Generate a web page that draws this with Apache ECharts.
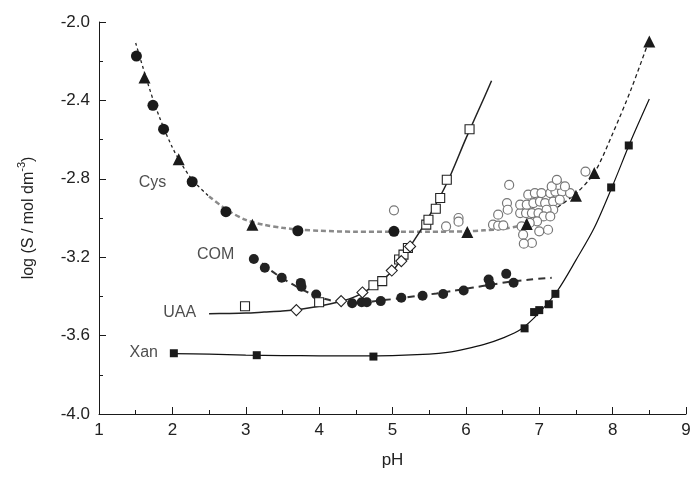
<!DOCTYPE html>
<html>
<head>
<meta charset="utf-8">
<script src="https://cdn.jsdelivr.net/npm/echarts@6/dist/echarts.min.js"></script>
<style>
  html, body { margin: 0; padding: 0; background: #fff; }
  #chart { width: 694px; height: 479px; }
</style>
</head>
<body>
<div id="chart"></div>
<script>
// values: [pH, log S]
var cysCircles = [[1.51, -2.174], [1.735, -2.425], [1.88, -2.547], [2.27, -2.815], [2.73, -2.968], [3.71, -3.065], [5.02, -3.068]];
var cysTriangles = [[1.62, -2.283], [2.086, -2.70], [3.09, -3.034], [6.02, -3.071], [6.83, -3.03], [7.50, -2.887], [7.75, -2.771], [8.50, -2.10]];
var cysFitLeft = [[1.50, -2.107], [1.75, -2.41], [2.00, -2.64], [2.25, -2.795], [2.50, -2.89]];
var cysFitMid = [[2.50, -2.89], [2.75, -2.96], [3.00, -3.01], [3.25, -3.035], [3.50, -3.05], [3.75, -3.06], [4.00, -3.065],
  [4.50, -3.07], [5.00, -3.07], [5.50, -3.07], [6.00, -3.068], [6.25, -3.063], [6.50, -3.055], [6.75, -3.038], [7.00, -3.005], [7.25, -2.945]];
var cysFitRight = [[7.25, -2.945], [7.50, -2.875], [7.75, -2.77], [8.00, -2.57], [8.25, -2.345], [8.50, -2.09]];

var comPoints = [[3.11, -3.209], [3.26, -3.254], [3.49, -3.305], [3.75, -3.331], [3.76, -3.351], [3.96, -3.39],
  [4.45, -3.435], [4.58, -3.43], [4.65, -3.43], [4.84, -3.424], [5.12, -3.407], [5.41, -3.397], [5.69, -3.388],
  [5.97, -3.37], [6.31, -3.314], [6.33, -3.34], [6.55, -3.285], [6.65, -3.33]];
var comFit = [[3.10, -3.19], [3.35, -3.27], [3.60, -3.33], [3.85, -3.38], [4.10, -3.415], [4.35, -3.43], [4.60, -3.43],
  [4.85, -3.42], [5.10, -3.41], [5.35, -3.397], [5.60, -3.385], [5.85, -3.37], [6.10, -3.355], [6.35, -3.34],
  [6.60, -3.325], [6.85, -3.315], [7.10, -3.307], [7.17, -3.305]];

var uaaSquares = [[2.99, -3.45], [4.00, -3.43], [4.74, -3.343], [4.86, -3.322], [5.09, -3.212], [5.15, -3.187], [5.21, -3.153],
  [5.46, -3.034], [5.49, -3.009], [5.59, -2.953], [5.65, -2.898], [5.74, -2.805], [6.05, -2.547]];
var uaaDiamonds = [[3.69, -3.47], [4.30, -3.424], [4.59, -3.38], [4.99, -3.268], [5.12, -3.22], [5.24, -3.145]];
var uaaFit = [[2.50, -3.488], [2.75, -3.487], [3.00, -3.485], [3.25, -3.48], [3.50, -3.475], [3.75, -3.465], [4.00, -3.45],
  [4.25, -3.43], [4.50, -3.40], [4.75, -3.345], [5.00, -3.27], [5.25, -3.14], [5.50, -2.99], [5.75, -2.815], [6.00, -2.595],
  [6.25, -2.385], [6.35, -2.30]];

var xanSquares = [[2.02, -3.69], [3.15, -3.70], [4.74, -3.707], [6.80, -3.563], [6.93, -3.48], [7.00, -3.47], [7.13, -3.44],
  [7.22, -3.387], [7.98, -2.844], [8.22, -2.63]];
var xanFit = [[2.00, -3.692], [2.50, -3.695], [3.00, -3.70], [3.50, -3.702], [4.00, -3.703], [4.50, -3.703], [5.00, -3.702],
  [5.50, -3.695], [5.75, -3.686], [6.00, -3.668], [6.25, -3.645], [6.50, -3.613], [6.75, -3.568], [7.00, -3.483], [7.25, -3.37],
  [7.50, -3.215], [7.75, -3.05], [8.00, -2.835], [8.25, -2.605], [8.50, -2.393]];

var openCircles = [[5.02, -2.961], [5.73, -3.043], [5.90, -3.000], [5.90, -3.019], [6.59, -2.831], [6.56, -2.924], [6.57, -2.958],
  [6.44, -2.983], [6.37, -3.034], [6.44, -3.039], [6.51, -3.038], [6.76, -3.043], [6.78, -3.085], [6.90, -3.127], [6.79, -3.131],
  [7.00, -3.068], [7.12, -3.060], [6.74, -2.975], [6.82, -2.975], [6.90, -2.975], [6.99, -2.975], [6.74, -2.932], [6.83, -2.932],
  [6.92, -2.924], [7.01, -2.916], [7.10, -2.907], [6.85, -2.881], [6.94, -2.873], [7.03, -2.873], [7.15, -2.873], [7.22, -2.865],
  [7.31, -2.865], [7.42, -2.873], [7.26, -2.831], [7.35, -2.839], [7.17, -2.839], [7.08, -2.924], [7.19, -2.916], [7.28, -2.907],
  [7.19, -2.958], [7.10, -2.958], [7.06, -2.992], [7.15, -2.992], [6.97, -3.017], [6.87, -3.025], [7.63, -2.763], [7.24, -2.805]];

var seriesLabels = [
  { name: 'Cys', value: [1.73, -2.82] },
  { name: 'COM', value: [2.59, -3.187] },
  { name: 'UAA', value: [2.10, -3.482] },
  { name: 'Xan', value: [1.61, -3.685] }
];

var xTicks = { min: 1, max: 9, step: 1 };
var yTicks = { min: -4, max: -2, step: 0.4 };

var font = 'Liberation Sans, Arial, sans-serif';
var ink = '#1a1a1a';

var chart = echarts.init(document.getElementById('chart'));

function fitLine(data, color, width, type) {
  return {
    type: 'line',
    data: data,
    smooth: 0.3,
    showSymbol: false,
    symbol: 'none',
    silent: true,
    lineStyle: { color: color, width: width, type: type },
    z: 1
  };
}

function dots(data, symbol, size, fill, border, borderWidth) {
  return {
    type: 'scatter',
    data: data,
    symbol: symbol,
    symbolSize: size,
    itemStyle: { color: fill, borderColor: border, borderWidth: borderWidth, opacity: 1 },
    z: 3
  };
}

var option = {
  animation: false,
  backgroundColor: '#fff',
  textStyle: { fontFamily: font },
  grid: { left: 99, right: 8, top: 22, bottom: 65 },
  xAxis: {
    type: 'value',
    min: xTicks.min,
    max: xTicks.max,
    interval: xTicks.step,
    name: 'pH',
    nameLocation: 'middle',
    nameGap: 38,
    nameTextStyle: { fontSize: 17, color: '#222', fontFamily: font },
    axisLine: { show: true, lineStyle: { color: ink, width: 1 } },
    axisTick: { show: true, inside: true, length: 7, lineStyle: { color: ink } },
    minorTick: { show: true, splitNumber: 2, length: 4, lineStyle: { color: ink } },
    axisLabel: { fontSize: 17, color: '#222', margin: 8, fontFamily: font },
    splitLine: { show: false }
  },
  yAxis: {
    type: 'value',
    min: yTicks.min,
    max: yTicks.max,
    interval: yTicks.step,
    name: 'log (S / mol dm{sup|-3})',
    nameLocation: 'middle',
    nameRotate: 90,
    nameGap: 57,
    nameTextStyle: {
      fontSize: 16, color: '#222', fontFamily: font, lineHeight: 26,
      rich: { sup: { fontSize: 11, color: '#222', verticalAlign: 'top', lineHeight: 12, fontFamily: font } }
    },
    axisLine: { show: true, lineStyle: { color: ink, width: 1 } },
    axisTick: { show: true, inside: true, length: 7, lineStyle: { color: ink } },
    minorTick: { show: true, splitNumber: 2, length: 4, lineStyle: { color: ink } },
    axisLabel: {
      fontSize: 17, color: '#222', margin: 9, fontFamily: font,
      formatter: function (v) { return v.toFixed(1); }
    },
    splitLine: { show: false }
  },
  series: [
    fitLine(cysFitLeft, '#222', 1.3, [3, 3]),
    fitLine(cysFitMid, '#8a8a8a', 2.5, [5, 3]),
    fitLine(cysFitRight, '#222', 1.3, [4, 3]),
    fitLine(comFit, '#333', 2, [7, 5]),
    fitLine(uaaFit, '#222', 1.5, 'solid'),
    fitLine(xanFit, '#111', 1.2, 'solid'),
    dots(openCircles, 'circle', 9, '#fff', '#777', 1.2),
    dots(cysCircles, 'circle', 11, ink, ink, 0),
    dots(cysTriangles, 'triangle', 12, ink, ink, 0),
    dots(comPoints, 'circle', 10, '#222', '#222', 0),
    dots(uaaSquares, 'rect', 9, '#fff', '#222', 1.1),
    dots(uaaDiamonds, 'diamond', 11, '#fff', '#222', 1.1),
    dots(xanSquares, 'rect', 8, ink, ink, 0),
    {
      type: 'scatter',
      data: seriesLabels,
      symbolSize: 1,
      itemStyle: { color: 'rgba(0,0,0,0)' },
      silent: true,
      label: {
        show: true,
        position: 'inside',
        formatter: '{b}',
        fontSize: 16,
        color: '#222',
        fontFamily: font
      },
      z: 4
    }
  ]
};

chart.setOption(option);
</script>
</body>
</html>
